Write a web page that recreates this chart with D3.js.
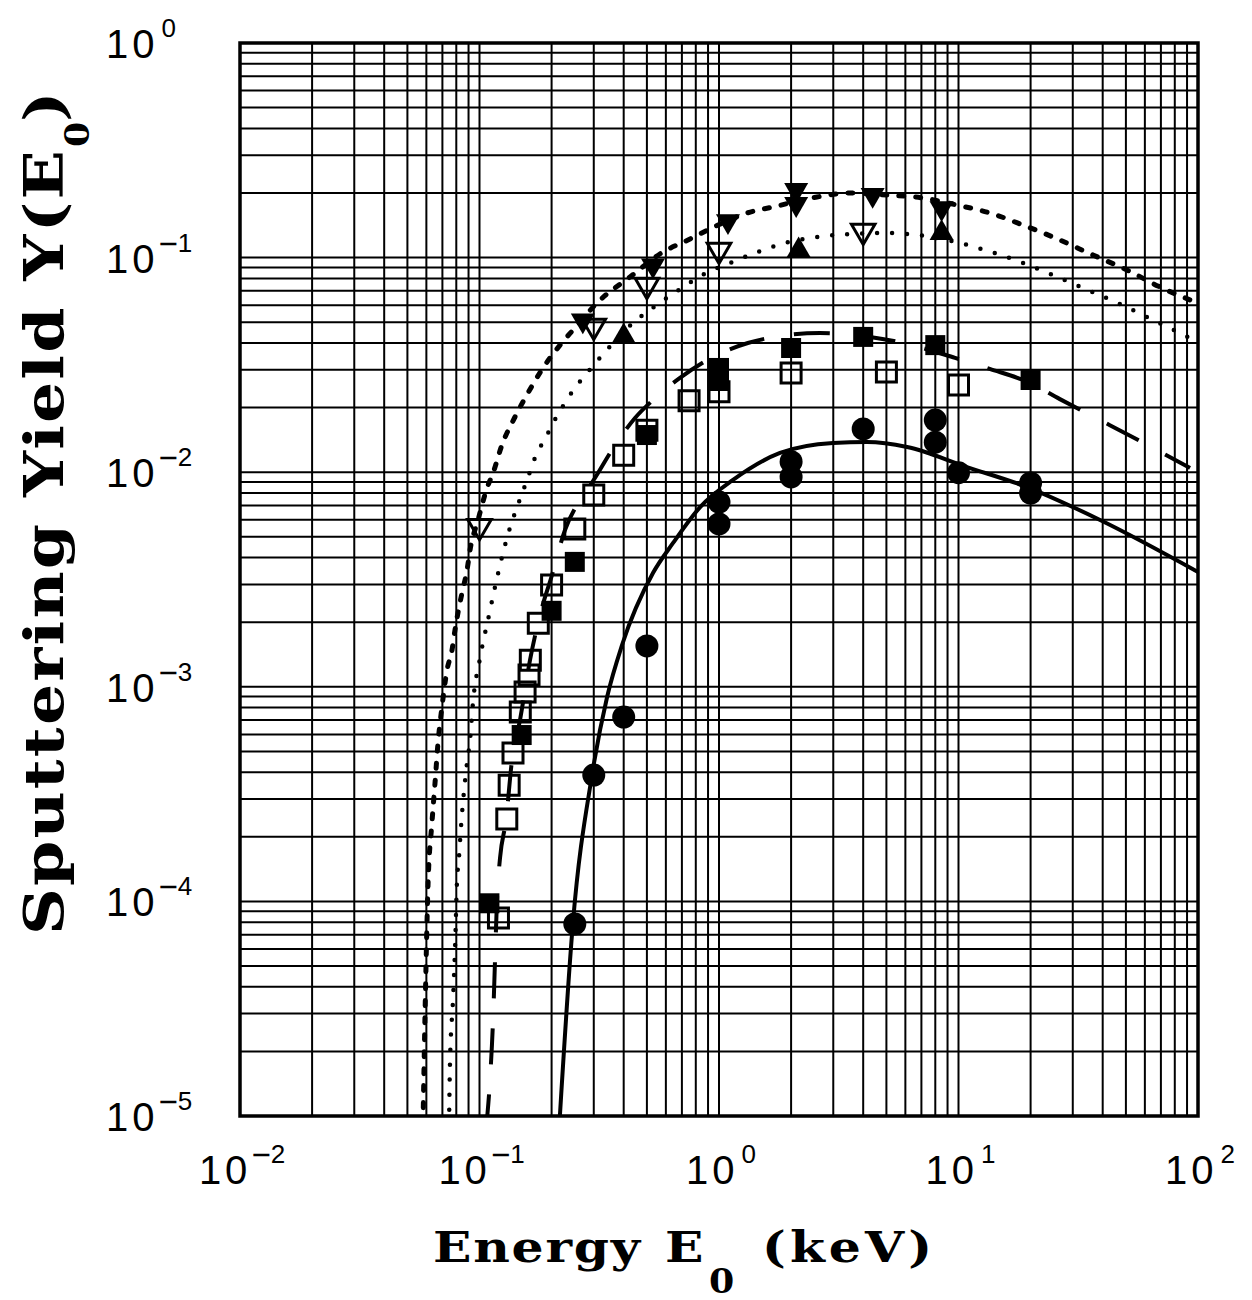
<!DOCTYPE html>
<html><head><meta charset="utf-8">
<script src="https://cdn.jsdelivr.net/npm/d3@7"></script>
<style>body{margin:0;background:#fff}</style>
</head><body><svg id="c" width="1252" height="1300"></svg>
<script>
// ---- data ----
const xDomain = [0.01, 100];
const yDomain = [1e-5, 1];
const xTickExps = [-2, -1, 0, 1, 2];
const yTickExps = [0, -1, -2, -3, -4, -5];

// solid curve
const solidCurve = [[0.2148,8.6e-6],[0.2455,7.93e-5],[0.295,3.88e-4],[0.341,8.96e-4],[0.394,1.57e-3],[0.53,3.39e-3],[0.643,4.68e-3],[0.834,6.88e-3],[1.144,9.2e-3],[1.798,0.01229],[2.992,0.01368],[4.15,0.01382],[6.10,0.0131],[10.85,0.01057],[19.3,8.53e-3],[39.0,5.99e-3],[100,3.43e-3]];
// long-dash curve (squares)
const longDashCurve = [[0.1064,8.6e-6],[0.1106,1.47e-5],[0.1139,2.80e-5],[0.1161,5.33e-5],[0.1183,1.016e-4],[0.1218,1.59e-4],[0.129,2.39e-4],[0.1367,4.56e-4],[0.1476,7.0e-4],[0.1625,1.33e-3],[0.1789,2.16e-3],[0.2008,3.32e-3],[0.2275,5.38e-3],[0.2628,7.42e-3],[0.3035,9.40e-3],[0.3574,0.01269],[0.446,0.01789],[0.530,0.0217],[0.687,0.0275],[0.962,0.0348],[1.32,0.040],[1.80,0.0431],[2.64,0.0445],[4.27,0.0427],[5.87,0.040],[9.67,0.0341],[13.5,0.0303],[19.5,0.0263],[26.5,0.0219],[39.0,0.0175],[58.4,0.01382],[92.6,0.01046]];
// short thick dash curve (filled down triangles)
const shortDashCurve = [[0.0581,9.1e-6],[0.0592,2.89e-5],[0.0610,1.218e-4],[0.0633,2.32e-4],[0.0652,3.56e-4],[0.0671,5.47e-4],[0.0697,8.05e-4],[0.0732,1.198e-3],[0.0768,1.484e-3],[0.0790,1.839e-3],[0.0845,2.735e-3],[0.0887,3.50e-3],[0.0913,4.34e-3],[0.0986,5.99e-3],[0.1075,8.44e-3],[0.1139,9.91e-3],[0.1241,0.01339],[0.1406,0.01808],[0.1594,0.0234],[0.1841,0.0306],[0.2168,0.0391],[0.2457,0.046],[0.3185,0.0634],[0.4249,0.0812],[0.5837,0.1062],[0.7423,0.1208],[0.9904,0.1418],[1.309,0.1613],[1.681,0.1721],[2.566,0.1916],[3.524,0.200],[5.03,0.1957],[7.11,0.1895],[9.86,0.1758],[13.54,0.1613],[18.59,0.1418],[24.81,0.1247],[36.44,0.1028],[50.5,0.0876],[69.4,0.0729],[100,0.0614]];
// dotted curve (up triangles)
const dottedCurve = [[0.0746,9.1e-6],[0.0753,1.766e-5],[0.0775,3.47e-5],[0.0790,5.94e-5],[0.0805,1.218e-4],[0.0821,1.61e-4],[0.0837,2.22e-4],[0.0887,4.42e-4],[0.0913,5.65e-4],[0.0939,8.41e-4],[0.1005,1.362e-3],[0.1096,2.16e-3],[0.1161,2.92e-3],[0.1241,4.02e-3],[0.134,5.50e-3],[0.1406,6.45e-3],[0.1563,8.91e-3],[0.1738,0.01229],[0.1877,0.01428],[0.2008,0.0166],[0.2232,0.02035],[0.2387,0.0229],[0.2949,0.0309],[0.3342,0.0363],[0.4375,0.0496],[0.5562,0.0608],[0.7007,0.0722],[0.8996,0.0857],[1.039,0.0914],[1.414,0.1050],[1.886,0.117],[2.566,0.1247],[3.524,0.1288],[4.933,0.1302],[6.776,0.1274],[10.15,0.117],[13.28,0.1074],[17.72,0.0964],[24.1,0.0839],[34.7,0.0706],[46.3,0.0614],[61.2,0.0529],[84.1,0.0445],[100,0.0404]];

// markers
const circlesFilled = [[0.25,7.85e-5],[0.3,3.88e-4],[0.4,7.23e-4],[0.5,1.55e-3],[1,7.26e-3],[1,5.74e-3],[2,0.0112],[2,9.5e-3],[4,0.0159],[8,0.0175],[8,0.0138],[10,9.95e-3],[20,8.91e-3],[20,7.99e-3]];
const squaresFilled = [[0.11,9.8e-5],[0.15,5.96e-4],[0.2,2.26e-3],[0.25,3.82e-3],[0.5,0.0149],[1,0.0306],[1,0.0266],[2,0.0379],[4,0.0427],[8,0.0391],[20,0.0269]];
const squaresOpen = [[0.12,8.37e-5],[0.13,2.42e-4],[0.133,3.48e-4],[0.138,4.92e-4],[0.148,7.64e-4],[0.155,9.46e-4],[0.161,1.135e-3],[0.163,1.33e-3],[0.176,1.98e-3],[0.2,2.98e-3],[0.25,5.44e-3],[0.3,7.83e-3],[0.4,0.0120],[0.5,0.0157],[0.75,0.0215],[1,0.0237],[2,0.029],[5,0.0293],[10,0.0255]];
const triDownFilled = [[0.27,0.051],[0.53,0.092],[1.09,0.148],[2.1,0.2065],[2.1,0.1777],[4.38,0.196],[8.5,0.170]];
const triDownOpen = [[0.1,5.6e-3],[0.3,0.048],[0.5,0.0745],[1,0.1085],[4,0.133]];
const triUpFilled = [[0.4,0.043],[2.15,0.108],[8.5,0.130]];

// ---- drawing ----
const svg = d3.select('#c');
const x = d3.scaleLog().domain(xDomain).range([240, 1198]);
const y = d3.scaleLog().domain(yDomain).range([1116, 43]);
const [X0, X1] = x.range(), [Y1, Y0] = y.range();

svg.append('rect').attr('width',1252).attr('height',1300).attr('fill','#fff');

// grid
const xGrid = [], yGrid = [];
for (let e = -2; e < 2; e++) for (let m = 1; m < 10; m++) xGrid.push(m * Math.pow(10, e));
for (let e = -5; e < 0; e++) for (let m = 1; m < 10; m++) yGrid.push(m * Math.pow(10, e));
const g = svg.append('g');
g.selectAll('.vx').data(xGrid).join('line')
  .attr('x1', d => x(d)).attr('x2', d => x(d)).attr('y1', Y0).attr('y2', Y1)
  .attr('stroke', '#000').attr('stroke-width', 2);
g.selectAll('.hy').data(yGrid).join('line')
  .attr('y1', d => y(d)).attr('y2', d => y(d)).attr('x1', X0).attr('x2', X1)
  .attr('stroke', '#000').attr('stroke-width', 2);
svg.append('rect').attr('x', X0).attr('y', Y0).attr('width', X1 - X0).attr('height', Y1 - Y0)
  .attr('fill', 'none').attr('stroke', '#000').attr('stroke-width', 3.5);

// clip
svg.append('clipPath').attr('id','clip').append('rect')
  .attr('x', X0).attr('y', Y0).attr('width', X1 - X0).attr('height', Y1 - Y0);

const line = d3.line().x(d => x(d[0])).y(d => y(d[1])).curve(d3.curveMonotoneX);
const cg = svg.append('g').attr('clip-path', 'url(#clip)');
cg.append('path').attr('d', line(solidCurve)).attr('fill','none').attr('stroke','#000').attr('stroke-width',4);
cg.append('path').attr('d', line(longDashCurve)).attr('fill','none').attr('stroke','#000').attr('stroke-width',4)
  .attr('stroke-dasharray','36,30');
cg.append('path').attr('d', line(shortDashCurve)).attr('fill','none').attr('stroke','#000').attr('stroke-width',5)
  .attr('stroke-linecap','round').attr('stroke-dasharray','5,12');
cg.append('path').attr('d', line(dottedCurve)).attr('fill','none').attr('stroke','#000').attr('stroke-width',4.5)
  .attr('stroke-linecap','round').attr('stroke-dasharray','0,15');

// markers
const mg = svg.append('g');
mg.selectAll('.cf').data(circlesFilled).join('circle')
  .attr('cx', d => x(d[0])).attr('cy', d => y(d[1])).attr('r', 11.5).attr('fill', '#000');
const sq = d3.symbol().type(d3.symbolSquare).size(400);
mg.selectAll('.sf').data(squaresFilled).join('path').attr('d', sq)
  .attr('transform', d => `translate(${x(d[0])},${y(d[1])})`).attr('fill', '#000');
const sqo = d3.symbol().type(d3.symbolSquare).size(400);
mg.selectAll('.so').data(squaresOpen).join('path').attr('d', sqo)
  .attr('transform', d => `translate(${x(d[0])},${y(d[1])})`).attr('fill', 'none')
  .attr('stroke', '#000').attr('stroke-width', 3);
const tri = d3.symbol().type(d3.symbolTriangle).size(250);
mg.selectAll('.td').data(triDownFilled).join('path').attr('d', tri)
  .attr('transform', d => `translate(${x(d[0])},${y(d[1])}) rotate(180)`).attr('fill', '#000');
mg.selectAll('.to').data(triDownOpen).join('path').attr('d', d3.symbol().type(d3.symbolTriangle).size(240))
  .attr('transform', d => `translate(${x(d[0])},${y(d[1])}) rotate(180)`).attr('fill', 'none')
  .attr('stroke', '#000').attr('stroke-width', 3).attr('stroke-linejoin','miter');
mg.selectAll('.tu').data(triUpFilled).join('path').attr('d', tri)
  .attr('transform', d => `translate(${x(d[0])},${y(d[1])})`).attr('fill', '#000');

// tick labels
const addExp = (t, e) => {
  if (e < 0) {
    t.append('tspan').attr('font-size', 33).attr('dy', -18).text('\u2212');
    t.append('tspan').attr('font-size', 26).attr('dy', -3).text(String(-e));
  } else {
    t.append('tspan').attr('font-size', 26).attr('dx', 3).attr('dy', -21).text(String(e));
  }
};
const yl = svg.append('g').attr('font-family', '"Liberation Sans", Arial, sans-serif').attr('fill', '#000');
yTickExps.forEach(e => {
  const t = yl.append('text').attr('x', 106).attr('y', y(Math.pow(10, e)) + 15);
  t.append('tspan').attr('font-size', 40).attr('letter-spacing', 4).text('10');
  addExp(t, e);
});
const xl = svg.append('g').attr('font-family', '"Liberation Sans", Arial, sans-serif').attr('fill', '#000');
xTickExps.forEach(e => {
  const t = xl.append('text').attr('x', x(Math.pow(10, e)) + 2).attr('y', 1184).attr('text-anchor', 'middle');
  t.append('tspan').attr('font-size', 40).attr('letter-spacing', 4).text('10');
  addExp(t, e);
});

// axis titles
const tf = '"DejaVu Serif", "Liberation Serif", serif';
const sx = 1.2;
const xt = svg.append('g').attr('font-family', tf).attr('font-weight', 'bold').attr('fill', '#000');
xt.append('text').attr('transform', `translate(433,1262) scale(${sx},1)`).attr('font-size', 42)
  .attr('textLength', 207 / sx).attr('lengthAdjust', 'spacing').text('Energy');
xt.append('text').attr('transform', `translate(665,1262) scale(${sx},1)`).attr('font-size', 42).text('E');
xt.append('text').attr('transform', `translate(709,1293) scale(1.1,1)`).attr('font-size', 33).text('0');
xt.append('text').attr('transform', `translate(762,1262) scale(${sx},1)`).attr('font-size', 42)
  .attr('textLength', 170 / sx).attr('lengthAdjust', 'spacing').text('(keV)');

const yt = svg.append('g').attr('font-family', tf).attr('font-weight', 'bold').attr('fill', '#000')
  .attr('transform', 'translate(63,0) rotate(-90)');
yt.append('text').attr('transform', `translate(-935,0) scale(${sx},1)`).attr('font-size', 54)
  .attr('textLength', 785 / sx).attr('lengthAdjust', 'spacing').text('Sputtering Yield Y(E');
yt.append('text').attr('transform', 'translate(-147,26) scale(1.1,1)').attr('font-size', 33).text('0');
yt.append('text').attr('transform', `translate(-122,0) scale(${sx},1)`).attr('font-size', 54).text(')');
</script>
</body></html>
